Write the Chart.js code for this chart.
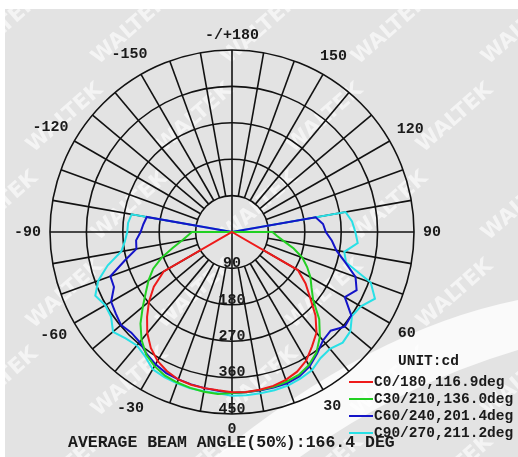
<!DOCTYPE html>
<html>
<head>
<meta charset="utf-8">
<script src="https://cdn.jsdelivr.net/npm/chart.js@4.4.0/dist/chart.umd.min.js"></script>
<style>
  html, body { margin: 0; padding: 0; background: #fff; }
  #wrap { width: 518px; height: 457px; }
</style>
</head>
<body>
<div id="wrap"><canvas id="polar" width="518" height="457"></canvas></div>
<script>
// gamma angles of the measurement, 0 = straight down
const gammaAngles = [0,5,10,15,20,25,30,35,40,45,50,55,60,65,70,75,80,85,90,95,100,105,110,115,120,125,130,135,140,145,150,155,160,165,170,175,180];

// intensities in cd, right half (C0, C30, C60, C90) and left half (C180, C210, C240, C270)
const c0   = [396,397,396,394,389,381,367,345,325,292,252,222,188,0,0,0,0,0,0,0,0,0,0,0,0,0,0,0,0,0,0,0,0,0,0,0,0];
const c180 = [392,393,392,391,388,380,368,350,326,297,268,236,195,0,0,0,0,0,0,0,0,0,0,0,0,0,0,0,0,0,0,0,0,0,0,0,0];
const c30  = [398,398,397,396,394,390,380,364,338,305,262,240,224,205,185,158,130,112,100,0,0,0,0,0,0,0,0,0,0,0,0,0,0,0,0,0,0];
const c210 = [402,402,401,399,396,392,383,370,348,320,288,260,238,215,185,152,127,111,99,0,0,0,0,0,0,0,0,0,0,0,0,0,0,0,0,0,0];
const c60  = [398,398,398,398,398,394,384,367,350,345,364,360,322,340,325,290,262,248,232,226,210,0,0,0,0,0,0,0,0,0,0,0,0,0,0,0,0];
const c240 = [395,394,392,390,388,385,378,368,355,352,358,351,345,322,320,275,240,238,226,220,214,0,0,0,0,0,0,0,0,0,0,0,0,0,0,0,0];
const c90  = [405,405,405,405,404,400,395,381,377,387,382,362,368,390,365,292,282,312,305,298,285,0,0,0,0,0,0,0,0,0,0,0,0,0,0,0,0];
const c270 = [400,400,400,400,398,396,392,375,366,372,384,365,362,373,352,318,278,266,259,258,252,0,0,0,0,0,0,0,0,0,0,0,0,0,0,0,0];

const seriesNames = ['C0/180,116.9deg', 'C30/210,136.0deg', 'C60/240,201.4deg', 'C90/270,211.2deg'];
const seriesColors = ['#ee1a1a', '#22d022', '#1414c8', '#28e0e6'];
const ringTicks = [90, 180, 270, 360, 450];
const titleText = 'AVERAGE BEAM ANGLE(50%):166.4 DEG';
const unitText = 'UNIT:cd';

// spokes clockwise from the top: 180, 175 ... 0 ... -175
const angleLabels = [];
for (let i = 0; i < 72; i++) angleLabels.push(180 - 5 * i);

const planeData = (right, left) => angleLabels.map(a =>
    a >= 0 ? right[gammaAngles.indexOf(a)] : left[gammaAngles.indexOf(-a)]);

const gridColor = '#121212';
const monoFont = '"Liberation Mono", "DejaVu Sans Mono", monospace';

const polarDecor = {
    id: 'polarDecor',
    beforeDraw(chart) {
        const ctx = chart.ctx;
        ctx.save();
        ctx.fillStyle = '#ffffff';
        ctx.fillRect(0, 0, chart.width, chart.height);
        ctx.fillStyle = '#e3e3e3';
        ctx.fillRect(5, 9, chart.width - 5, chart.height - 9);

        // light swoosh in the lower right
        ctx.fillStyle = 'rgba(255,255,255,0.8)';
        ctx.beginPath();
        ctx.moveTo(215, 457);
        ctx.quadraticCurveTo(370, 330, 518, 300);
        ctx.lineTo(518, 350);
        ctx.quadraticCurveTo(400, 385, 300, 457);
        ctx.closePath();
        ctx.fill();

        // watermark
        ctx.fillStyle = 'rgba(255,255,255,0.6)';
        ctx.font = 'bold 21px "DejaVu Sans"';
        ctx.textAlign = 'center';
        ctx.textBaseline = 'middle';
        for (let row = 0; row < 6; row++) {
            for (let col = 0; col < 5; col++) {
                const x = 0 + col * 130 + (row % 2) * 65;
                const y = 30 + row * 88;
                ctx.save();
                ctx.translate(x, y);
                ctx.rotate(-0.72);
                ctx.fillText('WALTEK', 0, 0);
                ctx.restore();
            }
        }
        ctx.restore();
    },
    beforeDatasetsDraw(chart) {
        const s = chart.scales.r;
        const ctx = chart.ctx;
        const inner = s.getDistanceFromCenterForValue(90);
        const outer = s.getDistanceFromCenterForValue(450);
        ctx.save();
        ctx.strokeStyle = gridColor;
        ctx.lineWidth = 1.6;
        angleLabels.forEach((a, i) => {
            if (a % 10 !== 0) return;
            const from = (a % 90 === 0) ? 0 : inner;
            const p0 = s.getPointPosition(i, from);
            const p1 = s.getPointPosition(i, outer);
            ctx.beginPath();
            ctx.moveTo(p0.x, p0.y);
            ctx.lineTo(p1.x, p1.y);
            ctx.stroke();
        });
        ctx.restore();
    },
    afterDraw(chart) {
        const s = chart.scales.r;
        const ctx = chart.ctx;
        const outer = s.getDistanceFromCenterForValue(450);
        ctx.save();
        ctx.fillStyle = '#1a1a1a';
        ctx.textAlign = 'center';
        ctx.textBaseline = 'middle';

        // angle labels every 30 degrees
        ctx.font = 'bold 15px ' + monoFont;
        angleLabels.forEach((a, i) => {
            if (a % 30 !== 0) return;
            const txt = a === 180 ? '-/+180' : String(a);
            const w = ctx.measureText(txt).width;
            const th = s.getIndexAngle(i);
            const d = outer + 9 + Math.abs(Math.sin(th)) * w / 2 + Math.abs(Math.cos(th)) * 6;
            const p = s.getPointPosition(i, d);
            ctx.fillText(txt, p.x, p.y);
        });

        // ring values along the 0 direction
        const down = angleLabels.indexOf(0);
        ringTicks.forEach(v => {
            const p = s.getPointPosition(down, s.getDistanceFromCenterForValue(v) - 5);
            ctx.fillText(String(v), p.x, p.y);
        });

        // title line
        ctx.textAlign = 'left';
        ctx.font = 'bold 16.5px ' + monoFont;
        ctx.fillText(titleText, 68, 443);

        // legend
        ctx.font = 'bold 14.5px ' + monoFont;
        ctx.fillText(unitText, 398, 361);
        chart.data.datasets.forEach((ds, k) => {
            const y = 382 + k * 17;
            ctx.strokeStyle = ds.borderColor;
            ctx.lineWidth = 2;
            ctx.beginPath();
            ctx.moveTo(349, y);
            ctx.lineTo(373, y);
            ctx.stroke();
            ctx.fillStyle = '#1a1a1a';
            ctx.fillText(ds.label, 374, y);
        });
        ctx.restore();
    }
};

new Chart(document.getElementById('polar'), {
    type: 'radar',
    data: {
        labels: angleLabels,
        datasets: [
            { label: seriesNames[0], data: planeData(c0, c180), borderColor: seriesColors[0] },
            { label: seriesNames[1], data: planeData(c30, c210), borderColor: seriesColors[1] },
            { label: seriesNames[2], data: planeData(c60, c240), borderColor: seriesColors[2] },
            { label: seriesNames[3], data: planeData(c90, c270), borderColor: seriesColors[3] }
        ]
    },
    options: {
        responsive: false,
        animation: false,
        devicePixelRatio: 1,
        layout: { padding: { left: 50, top: 50, right: 104, bottom: 43 } },
        elements: {
            line: { borderWidth: 2, fill: false, tension: 0 },
            point: { radius: 0, hoverRadius: 0 }
        },
        plugins: {
            legend: { display: false },
            tooltip: { enabled: false }
        },
        scales: {
            r: {
                min: 0,
                max: 450,
                ticks: { stepSize: 90, display: false },
                pointLabels: { display: false },
                angleLines: { display: false },
                grid: { circular: true, color: gridColor, lineWidth: 1.6 }
            }
        }
    },
    plugins: [polarDecor]
});
</script>
</body>
</html>
